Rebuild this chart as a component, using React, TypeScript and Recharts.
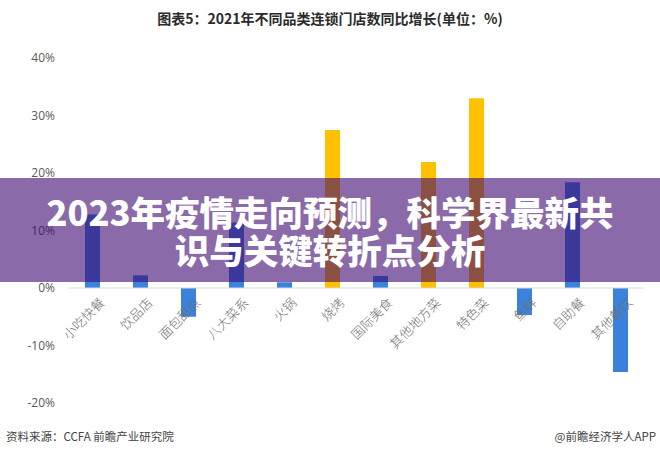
import React from 'react';
import { ComposedChart, Bar, Cell, XAxis, YAxis, ReferenceLine, Scatter } from 'recharts';

const categories = ['小吃快餐', '饮品店', '面包甜点', '八大菜系', '火锅', '烧烤', '国际美食', '其他地方菜', '特色菜', '鱼鲜', '自助餐', '其他餐饮'];
const growth = [12.8, 2.2, -5.0, 11.4, 1.0, 27.5, 2.1, 21.9, 33.0, -4.7, 18.4, -14.6];
const highlighted = ['烧烤', '其他地方菜', '特色菜'];
const yTicks = [-20, -10, 0, 10, 20, 30, 40];

const titleText = '图表5：2021年不同品类连锁门店数同比增长(单位：%)';
const bannerLines = ['2023年疫情走向预测，科学界最新共', '识与关键转折点分析'];
const sourceText = '资料来源：CCFA 前瞻产业研究院';
const brandText = '@前瞻经济学人APP';

const data = categories.map((c, i) => ({ category: c, value: growth[i], zero: 0 }));

const BLUE = '#3b82de';
const YELLOW = '#ffc000';

const LabelShape = (props: any) => {
  const { cx, cy, payload } = props;
  const x = cx + 5;
  const y = cy + 7;
  return (
    <text
      x={x}
      y={y}
      transform={`rotate(-45, ${x}, ${y})`}
      textAnchor="end"
      dominantBaseline="hanging"
      fontSize={13}
      fill="#707070"
      fontFamily="'Noto Sans CJK SC', sans-serif"
      fontWeight={300}
    >
      {payload.category}
    </text>
  );
};

export default function App() {
  return (
    <div style={{ position: 'absolute', left: 0, top: 0, width: 660, height: 461, background: '#fff', overflow: 'hidden' }}>
      <div
        style={{
          position: 'absolute',
          top: 8,
          left: 0,
          width: 660,
          textAlign: 'center',
          fontFamily: "'Noto Sans CJK SC', sans-serif",
          fontSize: 14,
          fontWeight: 700,
          color: '#2b2b2b',
          lineHeight: '20px',
        }}
      >
        {titleText}
      </div>
      <ComposedChart width={660} height={461} data={data} margin={{ top: 58, right: 16, bottom: 58, left: 0 }}>
        <XAxis dataKey="category" hide />
        <YAxis
          width={68}
          domain={[-20, 40]}
          ticks={yTicks}
          tickFormatter={(v: number) => `${v}%`}
          axisLine={false}
          tickLine={false}
          tickMargin={7}
          tick={{ fontSize: 12, fill: '#595959', fontFamily: "'Open Sans', sans-serif" }}
        />
        <ReferenceLine y={0} stroke="#d9d9d9" strokeWidth={1} />
        <Bar dataKey="value" barSize={15} isAnimationActive={false}>
          {data.map((d) => (
            <Cell key={d.category} fill={highlighted.includes(d.category) ? YELLOW : BLUE} />
          ))}
        </Bar>
        <Scatter dataKey="zero" isAnimationActive={false} shape={LabelShape} />
      </ComposedChart>
      <div
        style={{
          position: 'absolute',
          left: 0,
          top: 178,
          width: 660,
          height: 104,
          background: 'rgba(60,7,110,0.6)',
          display: 'flex',
          flexDirection: 'column',
          alignItems: 'center',
          justifyContent: 'center',
          color: '#fff',
          fontFamily: "'Noto Sans CJK SC', sans-serif",
          fontWeight: 900,
          fontSize: 34.5,
          lineHeight: '38px',
          textAlign: 'center',
        }}
      >
        {bannerLines.map((l) => (
          <div key={l}>{l}</div>
        ))}
      </div>
      <div
        style={{
          position: 'absolute',
          left: 6,
          top: 428,
          fontFamily: "'Noto Sans CJK SC', sans-serif",
          fontSize: 11.5,
          color: '#444',
          lineHeight: '16px',
        }}
      >
        {sourceText}
      </div>
      <div
        style={{
          position: 'absolute',
          right: 4,
          top: 428,
          fontFamily: "'Noto Sans CJK SC', sans-serif",
          fontSize: 11.5,
          color: '#444',
          lineHeight: '16px',
        }}
      >
        {brandText}
      </div>
    </div>
  );
}
